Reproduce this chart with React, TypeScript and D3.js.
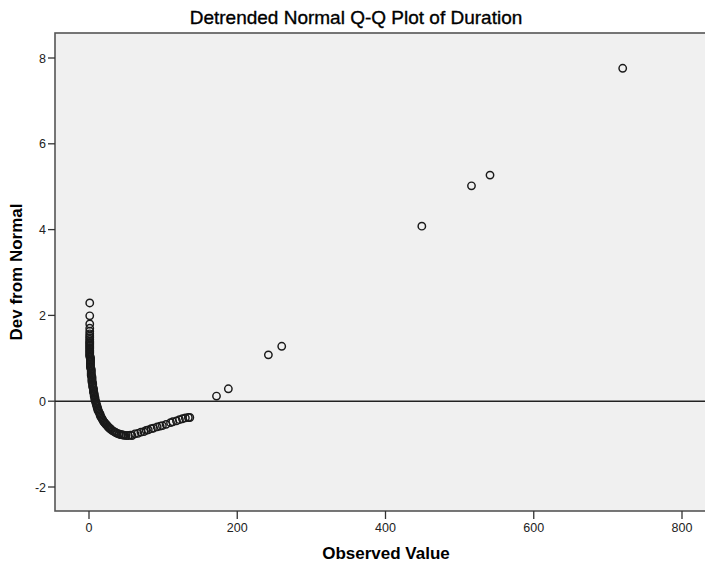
import React from "react";
import * as d3 from "d3";

const observed: number[] = [
  1, 1, 1, 1, 1, 1, 1, 1, 1, 1, 1, 1, 1, 1, 1, 1, 1, 1, 1, 1, 1, 1,
  2, 2, 2, 2, 2, 2, 2, 2, 2,
  3, 3, 3, 3, 3, 3,
  4, 4, 4, 4, 4,
  5, 5, 5, 5,
  6, 6, 6, 6,
  7, 7, 7,
  8, 8, 8,
  9, 9,
  10, 10,
  11, 11,
  12, 12,
  13, 14, 15, 15, 16, 17, 18, 19, 20, 21, 22, 23, 24, 25, 26, 27, 28, 29, 30, 32, 34, 36, 38,
  40, 41, 43, 44, 46, 47, 50, 53, 56, 58, 62, 66, 70, 74, 77, 80, 84, 87, 92, 96, 99,
  104, 110, 113, 118, 122, 126, 130, 134, 136,
  172, 188, 242, 260, 449, 516, 541, 720,
];

const devFromNormal: number[] = [
  2.29, 1.99, 1.8, 1.7, 1.63, 1.57, 1.52, 1.48, 1.44, 1.4, 1.37, 1.34, 1.31, 1.28, 1.25, 1.22, 1.19, 1.16, 1.13, 1.1, 1.07, 1.04,
  1.02, 0.99, 0.96, 0.93, 0.9, 0.87, 0.84, 0.81, 0.78,
  0.75, 0.72, 0.69, 0.66, 0.63, 0.6,
  0.57, 0.54, 0.51, 0.48, 0.45,
  0.42, 0.39, 0.36, 0.33,
  0.3, 0.27, 0.24, 0.21,
  0.18, 0.15, 0.12,
  0.09, 0.06, 0.03,
  0.0, -0.03,
  -0.06, -0.09,
  -0.12, -0.15,
  -0.18, -0.21,
  -0.24, -0.27, -0.3, -0.33, -0.36, -0.39, -0.42, -0.45, -0.48, -0.5, -0.52, -0.54, -0.56, -0.58, -0.6, -0.62, -0.63, -0.65, -0.66, -0.69, -0.71, -0.73, -0.75,
  -0.76, -0.77, -0.78, -0.78, -0.79, -0.79, -0.8, -0.8, -0.79, -0.8, -0.76, -0.75, -0.72, -0.71, -0.68, -0.67, -0.64, -0.63, -0.6, -0.58, -0.57,
  -0.54, -0.5, -0.48, -0.46, -0.43, -0.41, -0.39, -0.38, -0.38,
  0.12, 0.29, 1.08, 1.28, 4.08, 5.02, 5.27, 7.76,
];

const xTicks: number[] = [0, 200, 400, 600, 800];
const yTicks: number[] = [-2, 0, 2, 4, 6, 8];

const title = "Detrended Normal Q-Q Plot of Duration";
const xTitle = "Observed Value";
const yTitle = "Dev from Normal";

export default function App() {
  const W = 705;
  const H = 564;
  const left = 55;
  const right = 705;
  const top = 33;
  const bottom = 511;

  const x = d3.scaleLinear().domain([0, 800]).range([89, 682]);
  const y = d3.scaleLinear().domain([-2, 8]).range([487, 58]);

  const font = "'Liberation Sans', Arial, sans-serif";
  const points = observed.map((v, i) => ({ v, d: devFromNormal[i] }));

  return (
    <svg
      width={W}
      height={H}
      style={{ position: "absolute", left: 0, top: 0, background: "#fff" }}
    >
      <rect x={0} y={0} width={W} height={H} fill="#ffffff" />
      <text
        x={356}
        y={24}
        textAnchor="middle"
        fontFamily={font}
        fontSize={19}
        fill="#000"
        stroke="#000"
        strokeWidth={0.35}
      >
        {title}
      </text>
      <rect
        x={left}
        y={top}
        width={right - left + 2}
        height={bottom - top}
        fill="#f0f0f0"
        stroke="#555"
        strokeWidth={1.6}
      />
      <line
        x1={left}
        x2={right}
        y1={y(0)}
        y2={y(0)}
        stroke="#222"
        strokeWidth={1.4}
      />
      {points.map((p, i) => (
        <circle
          key={i}
          cx={x(p.v)}
          cy={y(p.d)}
          r={3.7}
          fill="none"
          stroke="#1a1a1a"
          strokeWidth={1.45}
        />
      ))}
      {xTicks.map((t) => (
        <g key={"xt" + t}>
          <line
            x1={x(t)}
            x2={x(t)}
            y1={bottom}
            y2={bottom + 8}
            stroke="#333"
            strokeWidth={1.3}
          />
          <text
            x={x(t)}
            y={bottom + 21}
            textAnchor="middle"
            fontFamily={font}
            fontSize={12.5}
            fill="#222"
          >
            {t}
          </text>
        </g>
      ))}
      {yTicks.map((t) => (
        <g key={"yt" + t}>
          <line
            x1={left - 7}
            x2={left}
            y1={y(t)}
            y2={y(t)}
            stroke="#333"
            strokeWidth={1.3}
          />
          <text
            x={left - 9}
            y={y(t) + 4.5}
            textAnchor="end"
            fontFamily={font}
            fontSize={12.5}
            fill="#222"
          >
            {t}
          </text>
        </g>
      ))}
      <text
        x={386}
        y={559}
        textAnchor="middle"
        fontFamily={font}
        fontSize={17}
        fontWeight="bold"
        fill="#000"
      >
        {xTitle}
      </text>
      <text
        transform={`translate(22, 272) rotate(-90)`}
        textAnchor="middle"
        fontFamily={font}
        fontSize={17}
        fontWeight="bold"
        fill="#000"
      >
        {yTitle}
      </text>
    </svg>
  );
}
